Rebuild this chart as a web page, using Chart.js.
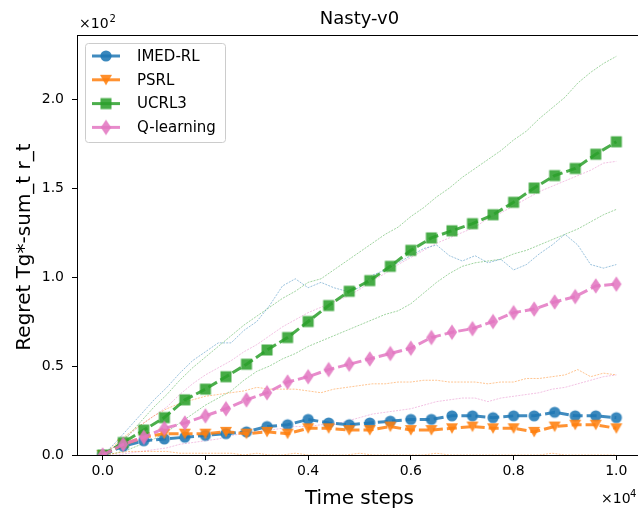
<!DOCTYPE html>
<html>
<head>
<meta charset="utf-8">
<title>Nasty-v0</title>
<script src="https://cdn.jsdelivr.net/npm/chart.js"></script>
<style>
    html, body { margin: 0; padding: 0; background: #fff; overflow: hidden; }
    #chart { display: block; }
</style>
</head>
<body>
<canvas id="chart" width="660" height="509"></canvas>
<script>
// time steps where the averaged curves (with markers) are sampled
const mainSteps = [0, 400, 800, 1200, 1600, 2000, 2400, 2800, 3200, 3600, 4000, 4400, 4800,
    5200, 5600, 6000, 6400, 6800, 7200, 7600, 8000, 8400, 8800, 9200, 9600, 10000];

// time steps for the thin quantile curves
const bandSteps = [0, 250, 500, 750, 1000, 1250, 1500, 1750, 2000, 2250, 2500, 2750, 3000,
    3250, 3500, 3750, 4000, 4250, 4500, 4750, 5000, 5250, 5500, 5750, 6000, 6250, 6500,
    6750, 7000, 7250, 7500, 7750, 8000, 8250, 8500, 8750, 9000, 9250, 9500, 9750, 10000];

const seriesNames = ['IMED-RL', 'PSRL', 'UCRL3', 'Q-learning'];

// mean regret
const imedMean = [0, 5, 8, 9, 10, 11, 12, 13, 16, 17, 20, 18, 17, 18, 19, 20, 20, 22, 22, 21, 22, 22, 24, 22, 22, 21];
const psrlMean = [0, 6, 10, 12, 12, 12, 13, 12, 13, 12, 15, 15, 14, 14, 16, 14, 14, 15, 16, 15, 15, 13, 16, 17, 17, 15];
const ucrlMean = [0, 7, 14, 21, 31, 37, 44, 51, 59, 66, 75, 84, 92, 98, 106, 115, 122, 126, 130, 135, 142, 150, 157, 161, 169, 176];
const qlearnMean = [0, 6, 10, 15, 18, 22, 26, 31, 35, 41, 44, 48, 51, 54, 57, 60, 66, 69, 71, 75, 80, 82, 86, 89, 95, 96];

// upper / lower quantiles
const imedUpper = [0, 7, 15, 23, 31, 38, 46, 53, 58, 63, 63, 70, 75, 84, 95, 99, 94, 97, 94, 92, 94,
    101, 104, 108, 112, 116, 118, 112, 109, 112, 108, 110, 104, 107, 113, 118, 124, 118, 107, 105, 107];
const psrlUpper = [0, 6, 12, 17, 22, 26, 29, 31, 33, 34, 35, 36, 38, 37, 37, 37, 36, 35, 37, 38, 39,
    40, 40, 41, 41, 42, 42, 41, 41, 41, 40, 41, 41, 43, 43, 44, 45, 48, 44, 46, 45];
const psrlLower = [0, 1, 2, 2, 2, 2, 1, 1, 1, 1, 1, 0, 1, 0, 0, 1, 0, 0, 0, 0, 1,
    0, 0, 0, 0, 0, 1, 0, 0, 0, 0, 0, 0, 0, 0, 1, 0, 0, 0, 0, 0];
const ucrlUpper = [0, 5, 11, 19, 27, 34, 42, 49, 55, 61, 67, 73, 78, 83, 88, 92, 97, 99, 104, 109, 114,
    119, 124, 128, 134, 139, 145, 150, 156, 161, 166, 171, 177, 182, 189, 195, 201, 209, 215, 220, 224];
const ucrlLower = [0, 1, 3, 6, 9, 13, 18, 23, 28, 32, 36, 42, 47, 50, 54, 57, 61, 64, 67, 70, 73,
    76, 79, 81, 85, 91, 97, 102, 106, 108, 109, 110, 113, 115, 118, 121, 124, 127, 131, 135, 138];
const qlearnUpper = [0, 5, 11, 17, 22, 27, 34, 40, 45, 49, 53, 58, 62, 67, 72, 76, 80, 83, 86, 89, 93,
    98, 102, 107, 111, 115, 119, 122, 125, 128, 133, 136, 140, 144, 148, 151, 154, 157, 160, 164, 165];
const qlearnLower = [0, 0, 1, 2, 3, 4, 6, 7, 8, 9, 11, 12, 13, 14, 15, 16, 16, 17, 17, 19, 21,
    23, 24, 25, 26, 28, 30, 31, 32, 32, 30, 32, 33, 34, 35, 37, 38, 40, 42, 44, 45];

const xTicks = [0, 2000, 4000, 6000, 8000, 10000];
const yTicks = [0, 50, 100, 150, 200];

document.addEventListener('DOMContentLoaded', () => {
    const fontFamily = "'DejaVu Sans', sans-serif";
    const rgb = [[31, 119, 180], [255, 127, 14], [44, 160, 44], [227, 119, 194]];
    const colorOf = (i, a) => `rgba(${rgb[i][0]}, ${rgb[i][1]}, ${rgb[i][2]}, ${a})`;

    // small canvases used as point styles, like matplotlib markers
    function makeMarker(shape, color) {
        const c = document.createElement('canvas');
        c.width = 18;
        c.height = 18;
        const g = c.getContext('2d');
        const m = 9;
        g.fillStyle = color;
        g.beginPath();
        if (shape === 'circle') {
            g.arc(m, m, 5.6, 0, Math.PI * 2);
        } else if (shape === 'tri') {
            g.moveTo(m - 6, m - 5);
            g.lineTo(m + 6, m - 5);
            g.lineTo(m, m + 5.5);
        } else if (shape === 'square') {
            g.rect(m - 5.5, m - 5.5, 11, 11);
        } else {
            g.moveTo(m, m - 7.8);
            g.lineTo(m + 5.2, m);
            g.lineTo(m, m + 7.8);
            g.lineTo(m - 5.2, m);
        }
        g.closePath();
        g.fill();
        return c;
    }

    const markers = [
        makeMarker('circle', colorOf(0, 0.88)),
        makeMarker('tri', colorOf(1, 0.88)),
        makeMarker('square', colorOf(2, 0.88)),
        makeMarker('diamond', colorOf(3, 0.88)),
    ];

    const toPoints = (steps, values) => steps.map((x, i) => ({ x: x, y: values[i] }));

    const means = [imedMean, psrlMean, ucrlMean, qlearnMean];
    const bands = [
        [0, imedUpper], [1, psrlUpper], [1, psrlLower],
        [2, ucrlUpper], [2, ucrlLower], [3, qlearnUpper], [3, qlearnLower],
    ];

    const datasets = [];
    means.forEach((values, i) => {
        datasets.push({
            label: seriesNames[i],
            data: toPoints(mainSteps, values),
            borderColor: colorOf(i, 0.85),
            borderWidth: 3,
            borderDash: [10, 4],
            pointStyle: markers[i],
            pointRadius: 6,
            pointHoverRadius: 6,
            tension: 0,
            fill: false,
            order: 4 - i, // later series on top
        });
    });
    bands.forEach(([i, values]) => {
        datasets.push({
            label: '',
            data: toPoints(bandSteps, values),
            borderColor: colorOf(i, 0.5),
            borderWidth: 0.9,
            borderDash: [2, 1.2],
            pointRadius: 0,
            tension: 0,
            fill: false,
            order: 10,
        });
    });

    const tickFont = { family: fontFamily, size: 14 };

    // title, axis labels, offset texts, spines and legend
    const decorations = {
        id: 'decorations',
        afterDatasetsDraw(chart) {
            const { ctx, chartArea } = chart;
            ctx.save();
            ctx.strokeStyle = '#000';
            ctx.lineWidth = 1;
            ctx.strokeRect(chartArea.left + 0.5, chartArea.top + 0.5,
                chartArea.right - chartArea.left, chartArea.bottom - chartArea.top);
            ctx.restore();
        },
        afterDraw(chart) {
            const { ctx, chartArea } = chart;
            const midX = (chartArea.left + chartArea.right) / 2;
            ctx.save();
            ctx.fillStyle = '#000';

            ctx.font = `18px ${fontFamily}`;
            ctx.textAlign = 'center';
            ctx.textBaseline = 'alphabetic';
            ctx.fillText('Nasty-v0', midX, 24);

            ctx.font = `20px ${fontFamily}`;
            ctx.fillText('Time steps', midX, 504);

            ctx.save();
            ctx.translate(30, (chartArea.top + chartArea.bottom) / 2 + 2);
            ctx.rotate(-Math.PI / 2);
            ctx.fillText('Regret Tg*-sum_t r_t', 0, 0);
            ctx.restore();

            ctx.font = `14px ${fontFamily}`;
            ctx.textAlign = 'left';
            ctx.fillText('×10', 79, 28);
            ctx.fillText('×10', 601, 503);
            ctx.font = `10px ${fontFamily}`;
            ctx.fillText('2', 79 + ctx.measureText('×10').width * 1.4 + 1, 22);
            ctx.fillText('4', 601 + 29, 497);

            // legend box
            const box = { x: 85.5, y: 43.5, w: 140, h: 99 };
            ctx.beginPath();
            ctx.roundRect(box.x, box.y, box.w, box.h, 3);
            ctx.fillStyle = 'rgba(255, 255, 255, 0.8)';
            ctx.fill();
            ctx.strokeStyle = '#cccccc';
            ctx.lineWidth = 1;
            ctx.stroke();

            ctx.font = `15px ${fontFamily}`;
            ctx.textAlign = 'left';
            ctx.textBaseline = 'middle';
            seriesNames.forEach((name, i) => {
                const y = 56 + i * 23.8;
                ctx.strokeStyle = colorOf(i, 0.85);
                ctx.lineWidth = 3;
                ctx.beginPath();
                ctx.moveTo(92, y);
                ctx.lineTo(120, y);
                ctx.stroke();
                ctx.drawImage(markers[i], 106 - 9, y - 9);
                ctx.fillStyle = '#000';
                ctx.fillText(name, 137, y + 1);
            });
            ctx.restore();
        },
    };

    new Chart(document.getElementById('chart').getContext('2d'), {
        type: 'line',
        data: { datasets: datasets },
        options: {
            responsive: false,
            animation: false,
            events: [],
            layout: { padding: { top: 35, right: 18, left: 0, bottom: 0 } },
            plugins: {
                legend: { display: false },
                tooltip: { enabled: false },
            },
            scales: {
                x: {
                    type: 'linear',
                    min: -500,
                    max: 10500,
                    afterBuildTicks: (scale) => { scale.ticks = xTicks.map(v => ({ value: v })); },
                    afterFit: (scale) => { scale.height = 54; },
                    ticks: {
                        callback: (v) => (v / 10000).toFixed(1),
                        font: tickFont,
                        color: '#000',
                        padding: 3,
                        maxRotation: 0,
                        autoSkip: false,
                    },
                    grid: { drawOnChartArea: false, drawTicks: true, tickLength: 5, tickColor: '#000', tickWidth: 1 },
                    border: { display: false },
                },
                y: {
                    type: 'linear',
                    min: 0,
                    max: 236,
                    afterBuildTicks: (scale) => { scale.ticks = yTicks.map(v => ({ value: v })); },
                    afterFit: (scale) => { scale.width = 77; },
                    ticks: {
                        callback: (v) => (v / 100).toFixed(1),
                        font: tickFont,
                        color: '#000',
                        padding: 8,
                        autoSkip: false,
                    },
                    grid: { drawOnChartArea: false, drawTicks: true, tickLength: 5, tickColor: '#000', tickWidth: 1 },
                    border: { display: false },
                },
            },
        },
        plugins: [decorations],
    });
});
</script>
</body>
</html>
